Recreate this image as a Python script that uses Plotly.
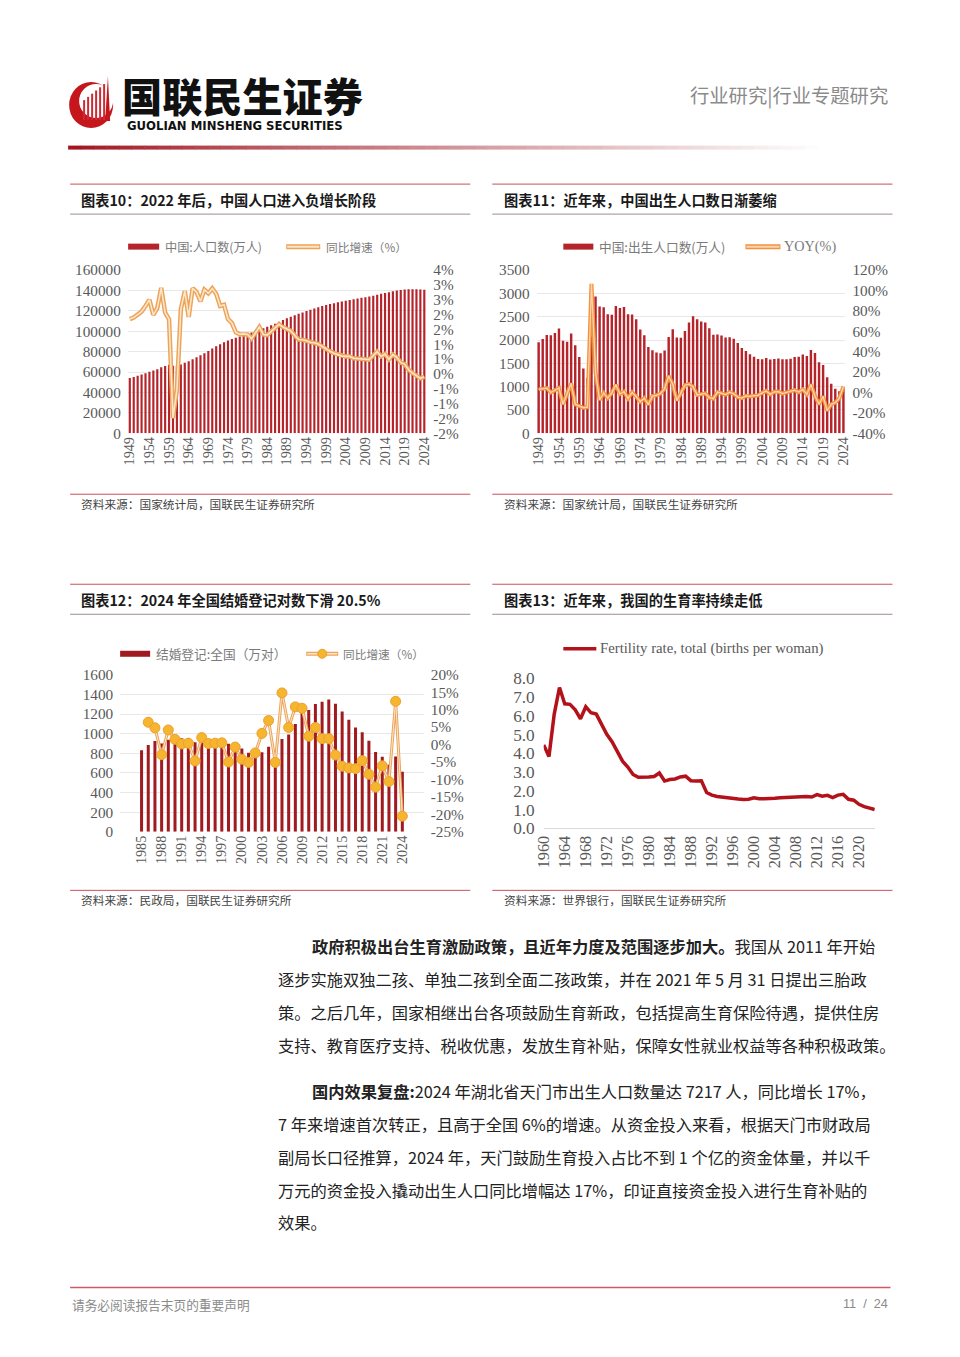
import plotly.graph_objects as go

# The viewer shows the page slightly shrunk and offset; page coordinates of the
# reference are converted to figure coordinates with the measured factors.
KX, KY = 0.9836, 0.9855
MX, MY = 17.2, 17.2
W = 940
H = 1342
def X(px): return (px / KX - MX) / W
def Y(py): return 1 - (py / KY - MY) / H
def FS(s): return s / KX

# ---------------- data ----------------
years_pop = [str(y) for y in range(1949, 2025)]
population = [54167, 55196, 56300, 57482, 58796, 60266, 61465, 62828, 64653, 65994,
              67207, 66207, 65859, 67295, 69172, 70499, 72538, 74542, 76368, 78534,
              80671, 82992, 85229, 87177, 89211, 90859, 92420, 93717, 94974, 96259,
              97542, 98705, 100072, 101654, 103008, 104357, 105851, 107507, 109300, 111026,
              112704, 114333, 115823, 117171, 118517, 119850, 121121, 122389, 123626, 124761,
              125786, 126743, 127627, 128453, 129227, 129988, 130756, 131448, 132129, 132802,
              133450, 134091, 134916, 135922, 136726, 137646, 138326, 139232, 140011, 140541,
              141008, 141212, 141260, 141175, 140967, 140828]
pop_growth = [1.85, 1.90, 2.00, 2.10, 2.29, 2.50, 1.99, 2.22, 2.90, 2.07,
              1.84, -1.49, -0.53, 2.18, 2.79, 1.92, 2.89, 2.76, 2.45, 2.84,
              2.72, 2.88, 2.70, 2.29, 2.33, 1.85, 1.72, 1.40, 1.34, 1.35,
              1.33, 1.19, 1.38, 1.58, 1.33, 1.31, 1.43, 1.56, 1.67, 1.58,
              1.51, 1.45, 1.30, 1.16, 1.15, 1.12, 1.06, 1.05, 1.01, 0.92,
              0.82, 0.76, 0.70, 0.65, 0.60, 0.59, 0.59, 0.53, 0.52, 0.51,
              0.49, 0.48, 0.62, 0.75, 0.59, 0.67, 0.49, 0.65, 0.56, 0.38,
              0.33, 0.14, 0.03, -0.06, -0.15, -0.10]
pop_xticks = ['1949', '1954', '1959', '1964', '1969', '1974', '1979', '1984', '1989',
              '1994', '1999', '2004', '2009', '2014', '2019', '2024']
pop_tickvals = [0, 20000, 40000, 60000, 80000, 100000, 120000, 140000, 160000]
pop_growth_tickvals = [3.5, 3.0, 2.5, 2.0, 1.5, 1.0, 0.5, 0.0, -0.5, -1.0, -1.5, -2.0]
pop_growth_ticktext = ['4%', '3%', '3%', '2%', '2%', '1%', '1%', '0%', '-1%', '-1%', '-2%', '-2%']

births = [1950, 2023, 2107, 2105, 2151, 2245, 1984, 1961, 2138, 1889,
          1635, 1389, 1187, 2451, 2934, 2721, 2704, 2554, 2543, 2731,
          2690, 2710, 2551, 2550, 2447, 2226, 2102, 1849, 1783, 1733,
          1715, 1776, 2064, 2230, 2052, 2050, 2196, 2374, 2508, 2445,
          2396, 2374, 2250, 2113, 2120, 2098, 2052, 2057, 2028, 1934,
          1827, 1765, 1696, 1641, 1594, 1588, 1612, 1581, 1591, 1604,
          1587, 1588, 1600, 1635, 1640, 1687, 1655, 1786, 1723, 1523,
          1465, 1202, 1062, 956, 902, 954]
births_yoy = [3.0, 3.7, 4.2, -0.1, 2.2, 4.4, -11.6, -1.2, 9.0, -11.6,
              -13.4, -15.0, -14.5, 106.5, 19.7, -7.3, -0.6, -5.5, -0.4, 7.4,
              -1.5, 0.7, -5.9, 0.0, -4.0, -9.0, -5.6, -12.0, -3.6, -2.8,
              -1.0, 3.6, 16.2, 8.0, -8.0, -0.1, 7.1, 8.1, 5.6, -2.5,
              -2.0, -0.9, -5.2, -6.1, 0.3, -1.0, -2.2, 0.2, -1.4, -4.6,
              -5.5, -3.4, -3.9, -3.2, -2.9, -0.4, 1.5, -1.9, 0.6, 0.8,
              -1.1, 0.1, 0.8, 2.2, 0.3, 2.9, -1.9, 7.9, -3.5, -11.6,
              -3.8, -18.0, -11.6, -10.0, -5.6, 5.8]
births_tickvals = [0, 500, 1000, 1500, 2000, 2500, 3000, 3500]
yoy_tickvals = [-40, -20, 0, 20, 40, 60, 80, 100, 120]
yoy_ticktext = ['-40%', '-20%', '0%', '20%', '40%', '60%', '80%', '100%', '120%']

years_mar = [str(y) for y in range(1985, 2025)]
marriages = [831, 884, 926, 899, 937, 951, 953, 957, 912, 930,
             934, 938, 943, 897, 891, 848, 805, 786, 811, 867,
             823, 945, 991, 1098, 1212, 1241, 1302, 1324, 1347, 1306,
             1225, 1142, 1063, 1014, 927, 814, 764, 683, 768, 611]
marriages_yoy = [None, 6.4, 4.8, -2.9, 4.2, 1.5, 0.2, 0.4, -4.7, 2.0,
                 0.3, 0.4, 0.5, -5.0, -0.7, -4.2, -5.1, -2.4, 3.2, 6.9,
                 -5.1, 14.8, 4.9, 10.8, 10.4, 2.4, 4.9, 1.7, 1.7, -3.0,
                 -6.2, -6.7, -6.9, -4.6, -8.5, -12.2, -6.1, -10.6, 12.4, -20.5]
mar_xticks = ['1985', '1988', '1991', '1994', '1997', '2000', '2003', '2006', '2009',
              '2012', '2015', '2018', '2021', '2024']
mar_tickvals = [0, 200, 400, 600, 800, 1000, 1200, 1400, 1600]
mar_yoy_tickvals = [-25, -20, -15, -10, -5, 0, 5, 10, 15, 20]
mar_yoy_ticktext = ['-25%', '-20%', '-15%', '-10%', '-5%', '0%', '5%', '10%', '15%', '20%']

years_fert = [str(y) for y in range(1960, 2024)]
fertility = [4.45, 3.83, 6.09, 7.51, 6.64, 6.61, 6.32, 5.84, 6.48, 6.16,
             6.09, 5.51, 5.01, 4.62, 4.06, 3.58, 3.27, 2.87, 2.72, 2.75,
             2.74, 2.76, 2.95, 2.52, 2.60, 2.63, 2.74, 2.78, 2.54, 2.52,
             2.53, 1.91, 1.77, 1.70, 1.66, 1.61, 1.58, 1.56, 1.54, 1.55,
             1.63, 1.58, 1.58, 1.58, 1.60, 1.63, 1.64, 1.66, 1.69, 1.71,
             1.70, 1.67, 1.80, 1.71, 1.76, 1.64, 1.77, 1.81, 1.55, 1.50,
             1.28, 1.16, 1.09, 1.00]
fert_xticks = ['1960', '1964', '1968', '1972', '1976', '1980', '1984', '1988', '1992',
               '1996', '2000', '2004', '2008', '2012', '2016', '2020']

# ---------------- styles ----------------
BAR_RED = '#b5232b'
BAR_RED2 = '#a11a20'
LINE_RED = '#b3121b'
OR_OUT = '#eba45a'
OR_IN = '#fde6c8'
OR_OUT2 = '#f2923e'
OR_IN2 = '#fbd6ad'
MK = '#f5b52e'
CJK = 'Noto Sans CJK SC'
SERIF = 'Liberation Serif'
TICK = '#595959'

fig = go.Figure()

# chart 10
fig.add_trace(go.Bar(x=years_pop, y=population, width=0.55, marker=dict(color=BAR_RED, line=dict(width=0)),
                     xaxis='x', yaxis='y', showlegend=False))
fig.add_trace(go.Scatter(x=years_pop, y=pop_growth, mode='lines', line=dict(color=OR_OUT, width=4.5),
                         xaxis='x', yaxis='y2', showlegend=False))
fig.add_trace(go.Scatter(x=years_pop, y=pop_growth, mode='lines', line=dict(color=OR_IN, width=1.6),
                         xaxis='x', yaxis='y2', showlegend=False))
# chart 11
fig.add_trace(go.Bar(x=years_pop, y=births, width=0.6, marker=dict(color=BAR_RED, line=dict(width=0)),
                     xaxis='x2', yaxis='y3', showlegend=False))
fig.add_trace(go.Scatter(x=years_pop, y=births_yoy, mode='lines', line=dict(color=OR_OUT2, width=4),
                         xaxis='x2', yaxis='y4', showlegend=False))
fig.add_trace(go.Scatter(x=years_pop, y=births_yoy, mode='lines', line=dict(color=OR_IN2, width=1.3),
                         xaxis='x2', yaxis='y4', showlegend=False))
# chart 12
fig.add_trace(go.Bar(x=years_mar, y=marriages, width=0.45, marker=dict(color=BAR_RED2, line=dict(width=0)),
                     xaxis='x3', yaxis='y5', showlegend=False))
fig.add_trace(go.Scatter(x=years_mar, y=marriages_yoy, mode='lines', line=dict(color=OR_OUT, width=3),
                         xaxis='x3', yaxis='y6', showlegend=False))
fig.add_trace(go.Scatter(x=years_mar, y=marriages_yoy, mode='lines+markers', line=dict(color=OR_IN, width=1),
                         marker=dict(size=10, color=MK, line=dict(color='#eea030', width=1)),
                         xaxis='x3', yaxis='y6', showlegend=False))
# chart 13
fig.add_trace(go.Scatter(x=years_fert, y=fertility, mode='lines', line=dict(color=LINE_RED, width=3.5),
                         xaxis='x4', yaxis='y7', showlegend=False))

tickfont = dict(family=SERIF, size=FS(15), color=TICK)
tickfont_x = dict(family=SERIF, size=FS(14), color=TICK)

def xax(dom, anchor, ticks, font=tickfont_x):
    return dict(domain=[X(dom[0]), X(dom[1])], anchor=anchor, type='category',
                tickmode='array', tickvals=ticks, ticktext=ticks, tickangle=-90,
                showgrid=False, zeroline=False, showline=False, ticks='', tickfont=font,
                fixedrange=True)

def yax(dom, anchor, rng, tickvals, ticktext=None, grid=True, font=tickfont, **kw):
    d = dict(domain=[Y(dom[1]), Y(dom[0])], anchor=anchor, range=rng,
             tickmode='array', tickvals=tickvals,
             ticktext=ticktext if ticktext is not None else [str(v) for v in tickvals],
             showgrid=grid, gridcolor='#e8e8e8', gridwidth=1, zeroline=False, showline=False,
             ticks='', tickfont=font, fixedrange=True)
    d.update(kw)
    return d

def yax_r(over, anchor, rng, tickvals, ticktext):
    return dict(overlaying=over, side='right', anchor=anchor, range=rng,
                tickmode='array', tickvals=tickvals, ticktext=ticktext,
                showgrid=False, zeroline=False, ticks='', tickfont=tickfont,
                ticklabelstandoff=6, fixedrange=True)

fig.update_layout(
    xaxis=xax((127.7, 426), 'y', pop_xticks),
    yaxis=yax((270, 433), 'x', [0, 160000], pop_tickvals, ticklabelstandoff=6),
    yaxis2=yax_r('y', 'x', [-2, 3.5], pop_growth_tickvals, pop_growth_ticktext),
    xaxis2=xax((536.3, 845), 'y3', pop_xticks),
    yaxis3=yax((270, 433), 'x2', [0, 3500], births_tickvals, ticklabelstandoff=6),
    yaxis4=yax_r('y3', 'x2', [-40, 120], yoy_tickvals, yoy_ticktext),
    xaxis3=xax((120, 423.5), 'y5', mar_xticks),
    yaxis5=yax((674.5, 831.5), 'x3', [0, 1600], mar_tickvals, ticklabelstandoff=6),
    yaxis6=yax_r('y5', 'x3', [-25, 20], mar_yoy_tickvals, mar_yoy_ticktext),
    xaxis4=dict(xax((543.4, 874.3), 'y7', fert_xticks, font=dict(family=SERIF, size=FS(16), color=TICK)),
                showline=True, linecolor='#d9d9d9', linewidth=1),
    yaxis7=dict(domain=[Y(828), Y(678)], anchor='x4', range=[0, 8], dtick=1, tickformat='.1f',
                showgrid=False, zeroline=False, showline=False, ticks='', fixedrange=True,
                tickfont=dict(family=SERIF, size=FS(17), color=TICK), ticklabelstandoff=8),
)

shapes = []
ann = []

def hline(x0, x1, y, color, width=1):
    shapes.append(dict(type='line', xref='paper', yref='paper', x0=X(x0), x1=X(x1), y0=Y(y), y1=Y(y),
                       line=dict(color=color, width=width)))

def rect(x0, x1, y0, y1, color):
    shapes.append(dict(type='rect', xref='paper', yref='paper', x0=X(x0), x1=X(x1), y0=Y(y1), y1=Y(y0),
                       fillcolor=color, line=dict(width=0)))

def text(x, y, s, size, color='#222', family=CJK, xanchor='left', weight=None):
    f = dict(family=family, size=FS(size), color=color)
    if weight:
        f['weight'] = weight
    ann.append(dict(xref='paper', yref='paper', x=X(x), y=Y(y), text=s, showarrow=False,
                    xanchor=xanchor, yanchor='middle', font=f))

# ---- header ----
shapes.append(dict(type='circle', xref='paper', yref='paper', x0=X(69), x1=X(113), y0=Y(128), y1=Y(82),
                   fillcolor='#c4161c', line=dict(width=0)))
shapes.append(dict(type='circle', xref='paper', yref='paper', x0=X(79), x1=X(113), y0=Y(118), y1=Y(84),
                   fillcolor='white', line=dict(width=0)))
for i, xs in enumerate([83, 87, 91, 95, 99, 103]):
    rect(xs, xs + 2, 100 - i * 3.2, 120, '#cf2a33')
shapes.append(dict(type='path', xref='paper', yref='paper',
                   path='M %f %f L %f %f L %f %f Z' % (X(105), Y(121), X(107.8), Y(76), X(110), Y(121)),
                   fillcolor='#c4161c', line=dict(width=0)))
text(120, 94, '国联民生证券', 39.5, color='#111', weight=900)
text(125, 125.5, 'GUOLIAN MINSHENG SECURITIES', 11.5, color='#111', family='DejaVu Sans', weight='bold')
text(890, 95, '行业研究|行业专题研究', 19, color='#8a8a8a', xanchor='right')

# gradient rule
n = 60
x_start, x_end = 68, 830
for i in range(n):
    t = i / (n - 1)
    r = int(163 + (255 - 163) * t)
    g = int(22 + (255 - 22) * t ** 0.9)
    b = int(33 + (255 - 33) * t ** 0.9)
    xa = x_start + (x_end - x_start) * i / n
    xb = x_start + (x_end - x_start) * (i + 1) / n + 0.5
    rect(xa, xb, 145.5, 149.5, 'rgb(%d,%d,%d)' % (r, g, b))

# ---- chart frames ----
TOPC = '#c8505c'
BOTC = '#9c8c96'
for (x0, x1, tx, ty_top, title, src, srcy) in [
        (70, 470, 79, 184, '图表10：2022 年后，中国人口进入负增长阶段', '资料来源：国家统计局，国联民生证券研究所', 494),
        (492, 892, 502, 184, '图表11：近年来，中国出生人口数日渐萎缩', '资料来源：国家统计局，国联民生证券研究所', 494),
        (70, 470, 79, 584, '图表12：2024 年全国结婚登记对数下滑 20.5%', '资料来源：民政局，国联民生证券研究所', 890),
        (492, 892, 502, 584, '图表13：近年来，我国的生育率持续走低', '资料来源：世界银行，国联民生证券研究所', 890)]:
    hline(x0, x1, ty_top, TOPC, 1)
    hline(x0, x1, ty_top + 30, BOTC, 1)
    text(tx, ty_top + 15.5, '<b>' + title + '</b>', 14, color='#1a1a1a')
    hline(x0, x1, srcy, TOPC, 1)
    text(tx, srcy + 9.5, src, 11.5, color='#444')

# ---- legends ----
LEG = '#7a7a7a'
# chart 10
rect(128, 159, 243.5, 249.5, BAR_RED)
text(163, 246.5, '中国:人口数(万人)', 12, color=LEG)
hline(286, 320, 246.5, OR_OUT, 5)
hline(287, 319, 246.5, OR_IN, 2)
text(324, 246.5, '同比增速（%）', 11.5, color=LEG)
# chart 11
rect(563, 593, 243.5, 249.5, BAR_RED)
text(597, 246.5, '中国:出生人口数(万人)', 12.5, color=LEG)
hline(745, 780, 246.5, OR_OUT2, 5)
hline(746, 779, 246.5, OR_IN2, 2)
text(782, 246.5, 'YOY(%)', 14, color=LEG, family=SERIF)
# chart 12
rect(120, 150, 650.5, 656.5, BAR_RED2)
text(154, 653.5, '结婚登记:全国（万对）', 12.5, color=LEG)
hline(306, 338, 653.5, OR_OUT, 4)
hline(307, 337, 653.5, OR_IN, 1.5)
shapes.append(dict(type='circle', xref='paper', yref='paper', x0=X(317.5), x1=X(326.5), y0=Y(658), y1=Y(649),
                   fillcolor=MK, line=dict(color='#eea030', width=1)))
text(341, 653.5, '同比增速（%）', 11.5, color=LEG)
# chart 13
hline(563, 596, 648.5, LINE_RED, 3.5)
text(598, 648.5, 'Fertility rate, total (births per woman)', 14.5, color='#595959', family=SERIF)

# ---- body text ----
BODY = '#222'
lines = [
    (310, 946, '<b>政府积极出台生育激励政策，且近年力度及范围逐步加大。</b>我国从 2011 年开始'),
    (276, 979, '逐步实施双独二孩、单独二孩到全面二孩政策，并在 2021 年 5 月 31 日提出三胎政'),
    (276, 1012, '策。之后几年，国家相继出台各项鼓励生育新政，包括提高生育保险待遇，提供住房'),
    (276, 1045, '支持、教育医疗支持、税收优惠，发放生育补贴，保障女性就业权益等各种积极政策。'),
    (310, 1091, '<b>国内效果复盘:</b>2024 年湖北省天门市出生人口数量达 7217 人，同比增长 17%，'),
    (276, 1124, '7 年来增速首次转正，且高于全国 6%的增速。从资金投入来看，根据天门市财政局'),
    (276, 1157, '副局长口径推算，2024 年，天门鼓励生育投入占比不到 1 个亿的资金体量，并以千'),
    (276, 1190, '万元的资金投入撬动出生人口同比增幅达 17%，印证直接资金投入进行生育补贴的'),
    (276, 1222, '效果。'),
]
for (x, y, s) in lines:
    text(x, y, s, 16, color=BODY)

# ---- footer ----
hline(70, 890, 1287, '#cf5a64', 1.5)
text(70, 1304, '请务必阅读报告末页的重要声明', 12.5, color='#8a8a8a')
text(890, 1304, '11  /  24', 12.5, color='#8a8a8a', family='Liberation Sans', xanchor='right')

fig.update_layout(
    width=W, height=H, autosize=False,
    margin=dict(l=0, r=0, t=0, b=0),
    paper_bgcolor='white', plot_bgcolor='rgba(0,0,0,0)',
    showlegend=False, bargap=0.4,
    shapes=shapes, annotations=ann,
    font=dict(family=CJK),
)

fig.write_html('out.html', config={'displayModeBar': False})
